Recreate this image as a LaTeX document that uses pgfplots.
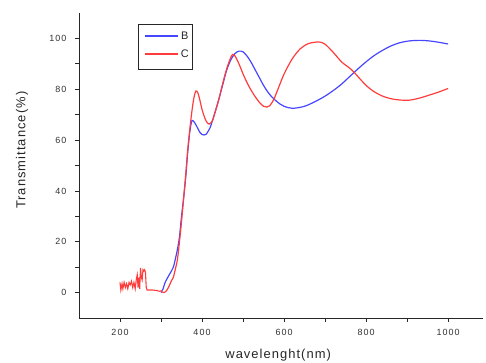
\documentclass[border=0pt]{standalone}
\usepackage{fontspec}
\setmainfont{Liberation Sans}
\newfontfamily\lsfont[LetterSpace=8]{Liberation Sans}
\newfontfamily\tkfont[LetterSpace=12]{Liberation Sans}
\usepackage{pgfplots}
\pgfplotsset{compat=1.18}
\usetikzlibrary{calc}
\definecolor{cB}{RGB}{70,70,255}
\definecolor{cC}{RGB}{255,60,60}
\begin{document}
\begin{tikzpicture}
\begin{axis}[name=ax, at={(0,0)}, anchor=south west,
  scale only axis, width=404bp, height=305bp,
  xmin=100, xmax=1085, ymin=-10, ymax=110,
  axis x line=bottom, axis y line=left,
  axis line style={-, black!85, line width=0.9pt},
  xtick={200,400,...,1000}, ytick={0,20,...,100},
  minor x tick num=1, minor y tick num=1,
  tick align=outside, major tick length=4bp, minor tick length=3.5bp,
  tick style={black!85, line width=0.8pt},
  /pgf/number format/assume math mode=true,
  /pgf/number format/1000 sep={},
  ticklabel style={font=\tkfont\fontsize{9}{9}\selectfont, text=black!80},
  xticklabel style={yshift=-4bp},
  yticklabel style={xshift=-5bp},
  xlabel={wavelenght(nm)}, ylabel={Transmittance(\%)},
  label style={font=\lsfont\fontsize{13}{13}\selectfont, text=black!85},
  xlabel style={at={(axis description cs:0.493,-0.121)}, anchor=center},
  ylabel style={at={(axis description cs:-0.141,0.55)}, anchor=center, rotate=0},
  clip=false,
]
\addplot[draw=cB, line width=1.2pt, smooth, tension=0.5] coordinates {
(300,0) (305,1.5) (310,4) (320,7) (330,10) (336,14) (340,17) (345,22) (350,30) (355,37) (360,45) (365,55) (370,63) (375,67.5) (380,67.3) (385,66) (390,64.5) (395,63) (400,62.2) (405,62) (410,62.3) (415,63.5) (420,65) (425,67.5) (430,70) (440,75.5) (450,81.5) (460,87.5) (470,91.5) (480,94) (490,95) (500,94.7) (510,93) (520,90.5) (530,87.5) (540,84.5) (550,81.5) (560,79) (570,77) (580,75.5) (590,74.2) (600,73.3) (620,72.5) (650,73.3) (680,75.5) (700,77.3) (720,79.5) (740,82) (760,85) (780,88) (800,90.8) (820,93.3) (840,95.3) (860,97) (880,98.2) (900,98.9) (920,99.2) (940,99.2) (960,98.9) (980,98.4) (1000,97.8)
};
\addplot[draw=cC, line width=1.2pt, smooth, tension=0.5] coordinates {
(307,0) (312,0.5) (318,2) (325,4.5) (330,6) (336,10) (340,13) (345,20) (350,28) (355,37) (360,46) (365,56) (370,64) (375,71) (380,76.5) (385,79.3) (390,78.5) (395,75.5) (400,72) (405,69.5) (410,67.5) (417,66.3) (425,67.5) (430,70) (440,75.5) (450,82) (460,88) (470,92.5) (475,93.7) (480,93.2) (490,90) (500,86) (510,82.5) (520,79.5) (530,77) (540,74.8) (550,73.3) (558,73) (565,73.5) (575,76) (585,80) (600,86) (620,92) (640,96) (660,98) (685,98.6) (700,97.7) (720,94.5) (740,90.8) (760,88.3) (770,86.8) (780,85) (800,81.5) (820,79) (840,77.3) (860,76.3) (880,75.8) (905,75.7) (930,76.5) (950,77.5) (975,78.8) (1000,80.3)
};
\addplot[draw=cC, line width=1.1pt] coordinates {
(200,4) (202,1) (205,3.5) (207,1.5) (210,4) (213,2) (216,3.5) (219,1.5) (222,4) (225,3) (228,4.5) (231,2) (234,4) (237,1.5) (240,5.5) (242,7) (244,2) (246,6) (248,1.5) (250,9.7) (252,6) (254,5) (256,9) (258,8.5) (260,9) (262,8) (264,2) (266,1) (270,1) (280,1) (290,0.8) (297,0.5) (300,0.7) (303,0.2) (307,0)
};
% legend
\draw[black!85, line width=0.8pt] (rel axis cs:0.146,0.816) rectangle (rel axis cs:0.280,0.964);
\draw[cB, line width=1.3pt] (rel axis cs:0.163,0.925) -- (rel axis cs:0.245,0.925);
\draw[cC, line width=1.3pt] (rel axis cs:0.163,0.866) -- (rel axis cs:0.245,0.866);
\node[font=\fontsize{11}{12}\selectfont, text=black!85, inner sep=0pt] at (rel axis cs:0.262,0.925) {B};
\node[font=\fontsize{11}{12}\selectfont, text=black!85, inner sep=0pt] at (rel axis cs:0.262,0.866) {C};
\end{axis}
\pgfresetboundingbox
\path ($(ax.south west)+(-79bp,-45bp)$) rectangle ($(ax.south west)+(407bp,318bp)$);
\end{tikzpicture}
\end{document}
